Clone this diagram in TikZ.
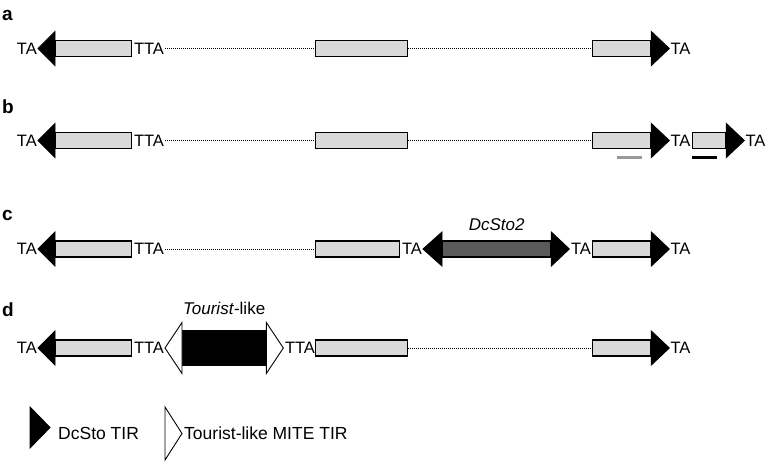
\documentclass[tikz,border=0pt]{standalone}
\usepackage{fontspec}
\setmainfont{Liberation Sans}
\usetikzlibrary{positioning}

\definecolor{orfgray}{HTML}{D9D9D9}
\definecolor{stogray}{HTML}{5A5A5A}
\definecolor{bargray}{HTML}{999999}

\tikzset{
  orf/.style={draw, fill=orfgray, line width=1.3pt, minimum height=16pt, inner sep=0pt},
  site/.style={inner sep=1pt, font=\fontsize{16.5}{19}\selectfont},
  elname/.style={inner sep=1pt, font=\fontsize{17}{20}\selectfont},
  panel/.style={anchor=west, inner sep=0pt, font=\fontsize{19}{22}\selectfont\bfseries},
  keytext/.style={anchor=west, inner sep=0pt, font=\fontsize{17.5}{20}\selectfont},
  spacer/.style={line width=1pt, dash pattern=on 1pt off 1pt},
  tir/.style={draw=black, line width=0.9pt, line join=miter},
  probe/.style={line width=3pt},
}

% TIR triangles: [fill]{base}{half height}{width}{tip name}
\newcommand{\tirR}[5][black]{%
  \filldraw[tir, fill=#1] (#2) ++(0,-#3) -- ++(#4,#3) coordinate (#5) -- ++(-#4,#3) -- cycle;}
\newcommand{\tirL}[5][black]{%
  \filldraw[tir, fill=#1] (#2) ++(0,-#3) -- ++(-#4,#3) coordinate (#5) -- ++(#4,#3) -- cycle;}

\begin{document}
\begin{tikzpicture}[x=1pt, y=-1pt]
  \useasboundingbox (0,0) rectangle (767,461);

  % a
  \node[panel] (pa) at (2,15) {a};
  \node[orf, minimum width=76pt, anchor=west] (a1) at (55,48.5) {};
  \tirL{a1.west}{17}{17}{a1tip}
  \node[site, left=0pt of a1tip] (a1ta) {TA};
  \node[site, right=0.5pt of a1.east] (a1tta) {TTA};
  \node[orf, minimum width=92pt, anchor=west] (a2) at (315,48.5) {};
  \node[orf, minimum width=58pt, anchor=west] (a3) at (592,48.5) {};
  \tirR{a3.east}{17}{18}{a3tip}
  \node[site, right=0pt of a3tip] (a3ta) {TA};
  \draw[spacer] (a1tta.east) -- (a2.west);
  \draw[spacer] (a2.east) -- (a3.west);

  % b
  \node[panel] (pb) at (2,107) {b};
  \node[orf, minimum width=76pt, anchor=west] (b1) at (55,140.5) {};
  \tirL{b1.west}{17}{17}{b1tip}
  \node[site, left=0pt of b1tip] (b1ta) {TA};
  \node[site, right=0.5pt of b1.east] (b1tta) {TTA};
  \node[orf, minimum width=92pt, anchor=west] (b2) at (315,140.5) {};
  \node[orf, minimum width=58pt, anchor=west] (b3) at (592,140.5) {};
  \tirR{b3.east}{17}{18}{b3tip}
  \node[site, right=0pt of b3tip] (b3ta) {TA};
  \node[orf, minimum width=33pt, anchor=west] (b4) at (692,140.5) {};
  \tirR{b4.east}{17}{18}{b4tip}
  \node[site, right=0pt of b4tip] (b4ta) {TA};
  \draw[spacer] (b1tta.east) -- (b2.west);
  \draw[spacer] (b2.east) -- (b3.west);
  \draw[probe, bargray] (617,157) -- (642,157);
  \draw[probe, black] (692,157) -- (717,157);

  % c
  \node[panel] (pc) at (2,215) {c};
  \node[orf, minimum width=76pt, anchor=west] (c1) at (55,249) {};
  \tirL{c1.west}{17}{17}{c1tip}
  \node[site, left=0pt of c1tip] (c1ta) {TA};
  \node[site, right=0.5pt of c1.east] (c1tta) {TTA};
  \node[orf, minimum width=84pt, anchor=west] (c2) at (315,249) {};
  \node[site, right=0.5pt of c2.east] (c2ta) {TA};
  \node[orf, fill=stogray, minimum width=108pt, anchor=west] (c3) at (442,249) {};
  \tirL{c3.west}{17}{19}{c3ltip}
  \tirR{c3.east}{17}{18}{c3rtip}
  \node[elname, above=8pt of c3] (sto) {\textit{DcSto2}};
  \node[site, right=0.5pt of c3rtip] (c3ta) {TA};
  \node[orf, minimum width=58pt, anchor=west] (c4) at (592,249) {};
  \tirR{c4.east}{17}{18}{c4tip}
  \node[site, right=0pt of c4tip] (c4ta) {TA};
  \draw[spacer] (c1tta.east) -- (c2.west);

  % d
  \node[panel] (pd) at (2,310) {d};
  \node[orf, minimum width=76pt, anchor=west] (d1) at (55,348) {};
  \tirL{d1.west}{17}{17}{d1tip}
  \node[site, left=0pt of d1tip] (d1ta) {TA};
  \node[site, right=0.5pt of d1.east] (d1tta) {TTA};
  \node[orf, fill=black, minimum width=83pt, minimum height=34pt, anchor=west] (d2) at (182,348) {};
  \tirL[white]{d2.west}{25.5}{17}{d2ltip}
  \tirR[white]{d2.east}{25.5}{17}{d2rtip}
  \node[elname, above=14pt of d2] (mite) {\textit{Tourist}-like};
  \node[site, right=0.5pt of d2rtip] (d2tta) {TTA};
  \node[orf, minimum width=92pt, anchor=west] (d3) at (315,348) {};
  \node[orf, minimum width=58pt, anchor=west] (d4) at (592,348) {};
  \tirR{d4.east}{17}{18}{d4tip}
  \node[site, right=0pt of d4tip] (d4ta) {TA};
  \draw[spacer] (d3.east) -- (d4.west);

  % key
  \coordinate (k1) at (30,427.5);
  \tirR{k1}{20.5}{20}{k1tip}
  \node[keytext] (k1text) at (58,433) {DcSto TIR};
  \coordinate (k2) at (165,433.5);
  \tirR[white]{k2}{26.5}{17}{k2tip}
  \node[keytext, right=2pt of k2tip] (k2text) {Tourist-like MITE TIR};
\end{tikzpicture}
\end{document}
